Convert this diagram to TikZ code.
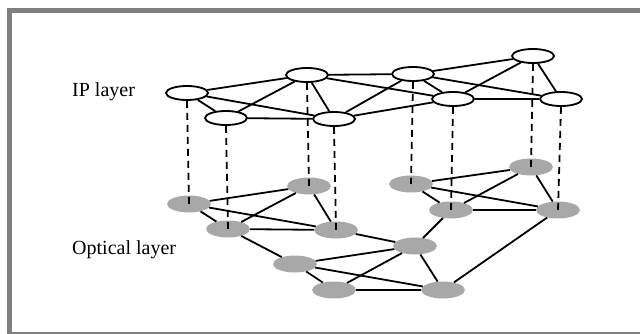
\documentclass[tikz,border=0pt]{standalone}
\usepackage{fontspec}
\setmainfont{Liberation Serif}
\usepackage{tikz}
\usetikzlibrary{shapes.geometric}
\definecolor{frameGray}{RGB}{128, 128, 128}
\definecolor{optGray}{RGB}{168, 168, 168}

\begin{document}
\begin{tikzpicture}[x=1pt, y=-1pt,
    ipnode/.style={ellipse, draw=black, fill=white, line width=1.8pt, minimum width=42pt, minimum height=14pt, inner sep=0pt},
    opnode/.style={ellipse, fill=optGray, minimum width=44pt, minimum height=17pt, inner sep=0pt},
    link/.style={line width=1.8pt},
    vlink/.style={line width=1.8pt, dash pattern=on 7pt off 5pt},
    lbl/.style={font=\fontsize{20}{22}\selectfont, anchor=base west, inner sep=0pt}]
  \useasboundingbox (0,0) rectangle (640,334);

  % Frame
  \fill[frameGray] (7,8) rectangle (640,13);
  \fill[frameGray] (7,8) rectangle (12,334);
  \fill[frameGray] (12,332) rectangle (640,334);

  % Labels
  \node[lbl] (iplbl) at (72,97) {IP layer};
  \node[lbl] (oplbl) at (72,254) {Optical layer};

  % IP layer
  \node[ipnode] (ip1) at (187,93) {};
  \node[ipnode] (ip2) at (226,118) {};
  \node[ipnode] (ip3) at (307,75) {};
  \node[ipnode] (ip4) at (413,74) {};
  \node[ipnode] (ip5) at (334,119) {};
  \node[ipnode] (ip6) at (453,99) {};
  \node[ipnode] (ip7) at (533,56) {};
  \node[ipnode] (ip8) at (561,99) {};

  \foreach \a/\b in {1/2, 1/3, 1/5, 2/3, 2/5, 3/4, 3/5, 3/6, 4/5, 4/6, 4/7, 4/8, 5/6, 6/7, 6/8, 7/8}
    \draw[link] (ip\a) -- (ip\b);

  % Optical layer
  \node[opnode] (op1) at (189,204) {};
  \node[opnode] (op2) at (228,229) {};
  \node[opnode] (op3) at (309,186) {};
  \node[opnode] (op5) at (336,230) {};
  \node[opnode] (op6) at (295,264) {};
  \node[opnode] (op7) at (334,290) {};
  \node[opnode] (op8) at (415,246) {};
  \node[opnode] (op9) at (443,290) {};
  \node[opnode] (op10) at (411,184) {};
  \node[opnode] (op11) at (451,210) {};
  \node[opnode] (op12) at (531,167) {};
  \node[opnode] (op13) at (558,210) {};

  \foreach \a/\b in {1/2, 1/3, 1/5, 2/3, 2/5, 2/6, 3/5, 5/8, 6/7, 6/8, 6/9, 7/8, 7/9, 8/9, 8/11, 9/13, 10/11, 10/12, 10/13, 11/12, 11/13, 12/13}
    \draw[link] (op\a) -- (op\b);

  % Vertical mapping
  \foreach \a/\b in {1/1, 2/2, 3/3, 5/5, 4/10, 6/11, 7/12, 8/13}
    \draw[vlink] (ip\a.south) -- (op\b.center);
\end{tikzpicture}
\end{document}
